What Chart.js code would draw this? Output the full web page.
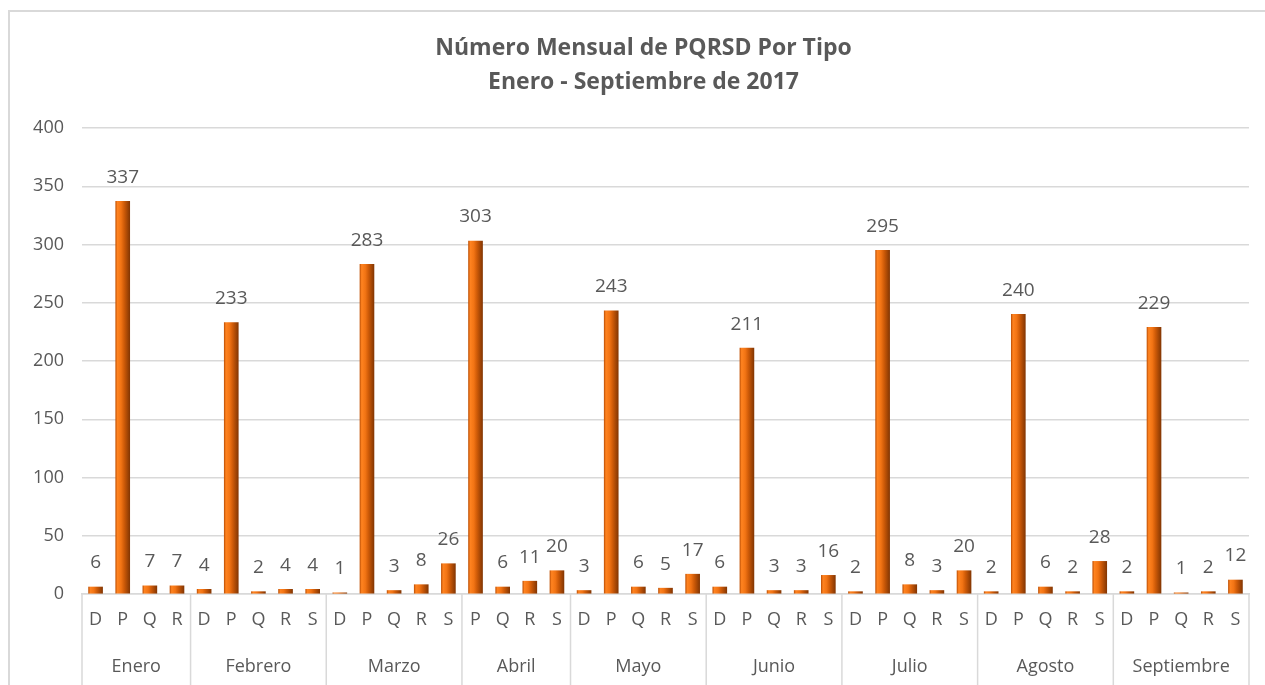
<!DOCTYPE html>
<html>
<head>
<meta charset="utf-8">
<script src="https://cdn.jsdelivr.net/npm/chart.js@4"></script>
<style>
  body { margin: 0; background: #fff; }
  #contenedor { width: 1265px; height: 685px; position: relative; }
</style>
</head>
<body>
<div id="contenedor"><canvas id="miGrafica"></canvas></div>
<script>
// Datos
const titulo = ['Número Mensual de PQRSD Por Tipo', 'Enero - Septiembre de 2017'];
const meses = ['Enero', 'Febrero', 'Marzo', 'Abril', 'Mayo', 'Junio', 'Julio', 'Agosto', 'Septiembre'];
const tiposPorMes = [
    ['D', 'P', 'Q', 'R'],
    ['D', 'P', 'Q', 'R', 'S'],
    ['D', 'P', 'Q', 'R', 'S'],
    ['P', 'Q', 'R', 'S'],
    ['D', 'P', 'Q', 'R', 'S'],
    ['D', 'P', 'Q', 'R', 'S'],
    ['D', 'P', 'Q', 'R', 'S'],
    ['D', 'P', 'Q', 'R', 'S'],
    ['D', 'P', 'Q', 'R', 'S']
];
const valoresPorMes = [
    [6, 337, 7, 7],
    [4, 233, 2, 4, 4],
    [1, 283, 3, 8, 26],
    [303, 6, 11, 20],
    [3, 243, 6, 5, 17],
    [6, 211, 3, 3, 16],
    [2, 295, 8, 3, 20],
    [2, 240, 6, 2, 28],
    [2, 229, 1, 2, 12]
];
const ticksY = [0, 50, 100, 150, 200, 250, 300, 350, 400];

const colorTexto = '#595959';
const colorLinea = '#d9d9d9';
const fuente = "'Open Sans', 'Noto Sans', sans-serif";

// Aplanar las categorias (una barra por tipo y mes)
const etiquetas = [];
const valores = [];
tiposPorMes.forEach((tipos, i) => {
    tipos.forEach((t, j) => {
        etiquetas.push(t);
        valores.push(valoresPorMes[i][j]);
    });
});

const anchoBarra = 14;

function colorBarra(context) {
    const chart = context.chart;
    const escala = chart.scales.x;
    if (!chart.chartArea || !escala) return '#e46c0a';
    const x = escala.getPixelForValue(context.dataIndex);
    const g = chart.ctx.createLinearGradient(x - anchoBarra / 2, 0, x + anchoBarra / 2, 0);
    g.addColorStop(0, '#c45508');
    g.addColorStop(0.12, '#ff8320');
    g.addColorStop(0.38, '#f27414');
    g.addColorStop(0.6, '#cf5b08');
    g.addColorStop(1, '#853703');
    return g;
}

// Marco exterior y titulo
const marco = {
    id: 'marco',
    beforeDraw(chart) {
        const ctx = chart.ctx;
        ctx.save();
        ctx.strokeStyle = colorLinea;
        ctx.lineWidth = 2;
        ctx.strokeRect(9, 11, chart.width + 10, chart.height + 10);
        ctx.fillStyle = colorTexto;
        ctx.font = "bold 23px " + fuente;
        ctx.textAlign = 'center';
        ctx.textBaseline = 'middle';
        const cx = chart.width / 2 + 11;
        ctx.fillText(titulo[0], cx, 48);
        ctx.fillText(titulo[1], cx, 82);
        ctx.restore();
    }
};

// Etiquetas de valor encima de cada barra
const etiquetasValor = {
    id: 'etiquetasValor',
    afterDatasetsDraw(chart) {
        const ctx = chart.ctx;
        const meta = chart.getDatasetMeta(0);
        ctx.save();
        ctx.fillStyle = colorTexto;
        ctx.font = "19px " + fuente;
        ctx.textAlign = 'center';
        ctx.textBaseline = 'middle';
        meta.data.forEach((barra, i) => {
            ctx.fillText(String(valores[i]), barra.x, barra.y - 24);
        });
        ctx.restore();
    }
};

// Segundo nivel del eje X: meses y separadores
const ejeMeses = {
    id: 'ejeMeses',
    afterDraw(chart) {
        const ctx = chart.ctx;
        const escala = chart.scales.x;
        const medio = (escala.getPixelForValue(1) - escala.getPixelForValue(0)) / 2;
        const abajo = chart.chartArea.bottom;
        ctx.save();
        ctx.strokeStyle = colorLinea;
        ctx.lineWidth = 1.5;
        ctx.fillStyle = colorTexto;
        ctx.font = "18px " + fuente;
        ctx.textAlign = 'center';
        ctx.textBaseline = 'middle';
        let inicio = 0;
        meses.forEach((mes, i) => {
            const fin = inicio + tiposPorMes[i].length - 1;
            const izq = escala.getPixelForValue(inicio) - medio;
            const der = escala.getPixelForValue(fin) + medio;
            ctx.beginPath();
            ctx.moveTo(izq, abajo);
            ctx.lineTo(izq, chart.height);
            if (i === meses.length - 1) {
                ctx.moveTo(der, abajo);
                ctx.lineTo(der, chart.height);
            }
            ctx.stroke();
            ctx.fillText(mes, (izq + der) / 2, abajo + 73);
            inicio = fin + 1;
        });
        ctx.restore();
    }
};

const ctx = document.getElementById('miGrafica').getContext('2d');
const miGrafica = new Chart(ctx, {
    type: 'bar',
    data: {
        labels: etiquetas,
        datasets: [{
            label: 'PQRSD',
            data: valores,
            backgroundColor: colorBarra,
            barThickness: anchoBarra,
            borderWidth: 0
        }]
    },
    options: {
        responsive: true,
        maintainAspectRatio: false,
        animation: false,
        layout: { padding: { top: 128, right: 16, bottom: 0, left: 0 } },
        plugins: {
            legend: { display: false },
            tooltip: { enabled: false },
            title: { display: false }
        },
        scales: {
            x: {
                type: 'category',
                grid: { display: false, drawTicks: false },
                border: { display: true, color: colorLinea, width: 1.5 },
                ticks: {
                    autoSkip: false,
                    maxRotation: 0,
                    color: colorTexto,
                    font: { family: fuente, size: 18 },
                    padding: 15
                },
                afterFit(escala) { escala.height = 91; }
            },
            y: {
                min: 0,
                max: 400,
                afterBuildTicks(escala) {
                    escala.ticks = ticksY.map(v => ({ value: v }));
                },
                grid: { color: colorLinea, lineWidth: 1.5, drawTicks: false },
                border: { display: false },
                ticks: {
                    color: colorTexto,
                    font: { family: fuente, size: 18 },
                    padding: 18
                },
                afterFit(escala) { escala.width = 82; }
            }
        }
    },
    plugins: [marco, etiquetasValor, ejeMeses]
});
</script>
</body>
</html>
